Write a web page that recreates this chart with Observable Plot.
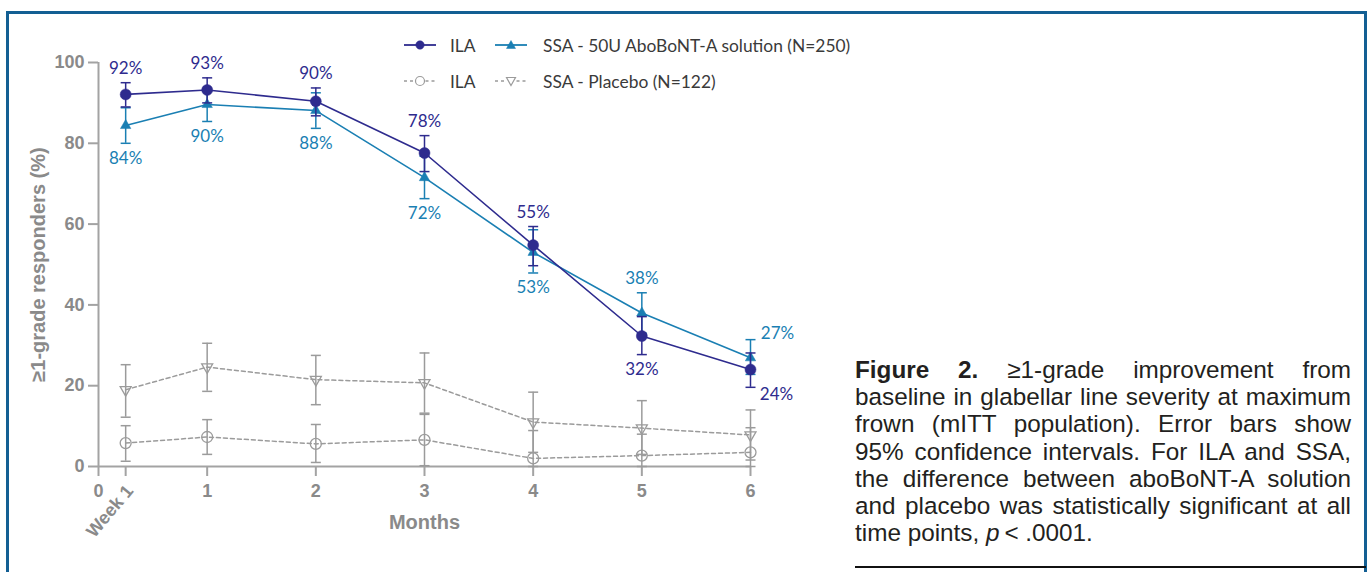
<!DOCTYPE html>
<html>
<head>
<meta charset="utf-8">
<script src="https://cdn.jsdelivr.net/npm/d3@7"></script>
<script src="https://cdn.jsdelivr.net/npm/@observablehq/plot@0.6"></script>
<style>
  html, body { margin: 0; padding: 0; background: #fff; }
  body { width: 1369px; height: 572px; overflow: hidden; position: relative; }
  #frame { position: absolute; left: 6px; top: 11px; width: 1361px; height: 620px; border: 3px solid #135f93; box-sizing: border-box; }
  #chart { position: absolute; left: 0; top: 0; }
  #legend { position: absolute; left: 403px; top: 33px; font-family: Lato, "Open Sans", sans-serif; font-size: 17.4px; color: #3a3a3a; }
  .lrow { display: grid; grid-template-columns: 34px 13px 44px 34px 15px auto; align-items: center; height: 24px; margin-bottom: 12px; white-space: nowrap; }
  .lrow svg { display: block; }
  #caption { position: absolute; left: 855px; top: 356px; width: 496px; font-family: "Liberation Sans", Arial, sans-serif; font-size: 24.3px; line-height: 27.2px; color: #231f20; }
  #caption div { text-align: justify; text-align-last: justify; white-space: nowrap; }
  #caption div.last { text-align: left; text-align-last: left; }
  #rule { position: absolute; left: 855px; top: 566px; width: 511px; height: 2px; background: #111; }
</style>
</head>
<body>
<div id="frame"></div>
<div id="chart"></div>
<div id="legend"></div>
<div id="caption"></div>
<div id="rule"></div>
<script>
// ---------- data ----------
const months = [0.25, 1, 2, 3, 4, 5, 6];
const xTicks = [0, 0.25, 1, 2, 3, 4, 5, 6];
const weekTick = [0.25];
const weekLabel = "Week 1";
const yTicks = [0, 20, 40, 60, 80, 100];

const ilaActive       = [92.1, 93.2, 90.4, 77.6, 54.8, 32.3, 24.0];
const ilaActiveLo     = [89.0, 90.0, 86.8, 73.0, 49.7, 27.7, 19.6];
const ilaActiveHi     = [95.0, 96.2, 93.7, 81.9, 59.4, 37.1, 28.1];
const ilaActiveLabels = ["92%", "93%", "90%", "78%", "55%", "32%", "24%"];

const ssaActive       = [84.4, 89.6, 88.1, 71.5, 53.0, 38.0, 26.9];
const ssaActiveLo     = [80.0, 85.4, 83.7, 66.3, 47.9, 33.0, 22.8];
const ssaActiveHi     = [88.8, 93.0, 92.5, 76.8, 58.6, 43.0, 31.4];
const ssaActiveLabels = ["84%", "90%", "88%", "72%", "53%", "38%", "27%"];

const ilaPlacebo      = [5.8, 7.3, 5.6, 6.6, 2.0, 2.7, 3.5];
const ilaPlaceboLo    = [1.3, 3.0, 1.0, 0.2, 0.0, 0.0, 0.0];
const ilaPlaceboHi    = [10.1, 11.6, 10.4, 12.9, 8.9, 8.0, 9.6];

const ssaPlacebo      = [19.0, 24.6, 21.5, 20.7, 11.0, 9.5, 7.8];
const ssaPlaceboLo    = [12.2, 18.6, 15.3, 13.2, 3.5, 3.0, 1.6];
const ssaPlaceboHi    = [25.2, 30.5, 27.5, 28.1, 18.4, 16.3, 14.0];

const legendLabels = ["ILA", "SSA - 50U AboBoNT-A solution (N=250)", "ILA", "SSA - Placebo (N=122)"];
const xLabel = "Months";
const yLabel = "≥1-grade responders (%)";

const captionLines = [
  "<b>Figure 2.</b> ≥1-grade improvement from",
  "baseline in glabellar line severity at maximum",
  "frown (mITT population). Error bars show",
  "95% confidence intervals. For ILA and SSA,",
  "the difference between aboBoNT-A solution",
  "and placebo was statistically significant at all",
  "time points, <i>p</i>&thinsp;&lt; .0001."
];

// ---------- styles ----------
const PURPLE = "#2e2b8e";
const TEAL = "#1a7fb3";
const GREY = "#9b9b9b";
const AXIS = "#a3a3a3";
const TICKTXT = "#8a8a8a";

const rows = (v, lo, hi, labels) => months.map((t, i) => ({t, v: v[i], lo: lo[i], hi: hi[i], label: labels ? labels[i] : ""}));
const ilaA = rows(ilaActive, ilaActiveLo, ilaActiveHi, ilaActiveLabels);
const ssaA = rows(ssaActive, ssaActiveLo, ssaActiveHi, ssaActiveLabels);
const ilaP = rows(ilaPlacebo, ilaPlaceboLo, ilaPlaceboHi);
const ssaP = rows(ssaPlacebo, ssaPlaceboLo, ssaPlaceboHi);

// custom symbols
const rad = size => Math.sqrt(size / Math.PI);
const capSym = {draw(ctx, size) { const r = rad(size); ctx.moveTo(-r, 0); ctx.lineTo(r, 0); }};
const triUp = {draw(ctx, size) { const r = rad(size), h = r * 1.75; ctx.moveTo(0, -h * 2 / 3); ctx.lineTo(r, h / 3); ctx.lineTo(-r, h / 3); ctx.closePath(); }};
const triDown = {draw(ctx, size) { const r = rad(size), h = r * 1.75; ctx.moveTo(0, h * 2 / 3); ctx.lineTo(r, -h / 3); ctx.lineTo(-r, -h / 3); ctx.closePath(); }};

function seriesMarks(data, color, opts) {
  return [
    Plot.line(data, {x: "t", y: "v", stroke: color, strokeWidth: opts.lw, strokeDasharray: opts.dash}),
    Plot.ruleX(data, {x: "t", y1: "lo", y2: "hi", stroke: color, strokeWidth: 1.5}),
    Plot.dot(data, {x: "t", y: "lo", symbol: capSym, r: 5, stroke: color, strokeWidth: 1.5, fill: "none"}),
    Plot.dot(data, {x: "t", y: "hi", symbol: capSym, r: 5, stroke: color, strokeWidth: 1.5, fill: "none"}),
    Plot.dot(data, {x: "t", y: "v", symbol: opts.symbol, r: opts.r, fill: opts.fill, stroke: color, strokeWidth: opts.sw})
  ];
}

function labelMarks(data, other, color) {
  const n = data.length;
  const above = (d, i) => d.v >= other[i].v;
  const font = {fontFamily: "Lato, 'Open Sans', sans-serif", fontSize: 17, fontWeight: "normal", fill: color, text: "label", x: "t"};
  return [
    Plot.text(data.filter((d, i) => i < n - 1 && above(d, i)), {...font, y: "hi", dy: -14}),
    Plot.text(data.filter((d, i) => i < n - 1 && !above(d, i)), {...font, y: "lo", dy: 15}),
    Plot.text(data.filter((d, i) => i === n - 1 && above(d, i)), {...font, y: "hi", dy: -6, dx: 27}),
    Plot.text(data.filter((d, i) => i === n - 1 && !above(d, i)), {...font, y: "lo", dy: 7, dx: 26})
  ];
}

const tickFont = {fontSize: 18, fontWeight: "bold", fontFamily: "'Liberation Sans', Arial, sans-serif"};

const chart = Plot.plot({
  width: 830,
  height: 560,
  marginLeft: 98,
  marginRight: 80,
  marginTop: 62,
  marginBottom: 94,
  style: {background: "transparent", fontFamily: "'Liberation Sans', Arial, sans-serif", overflow: "visible"},
  x: {domain: [0, 6], axis: null},
  y: {domain: [0, 100], axis: null},
  marks: [
    Plot.axisY({ticks: yTicks, tickSize: 10, tickPadding: 4, strokeWidth: 2, stroke: AXIS, fill: TICKTXT, label: null, tickFormat: d => String(d), ...tickFont}),
    Plot.axisX({ticks: xTicks, tickSize: 10, tickPadding: 8, strokeWidth: 2, stroke: AXIS, fill: TICKTXT, label: null, tickFormat: d => weekTick.includes(d) ? "" : String(d), ...tickFont}),
    Plot.axisX({ticks: weekTick, tickSize: 0, tickPadding: 21, fill: TICKTXT, label: null, tickFormat: () => weekLabel, tickRotate: -50, dx: 4, ...tickFont}),
    Plot.ruleX([0], {y1: 0, y2: 100, stroke: AXIS, strokeWidth: 2}),
    Plot.ruleY([0], {x1: 0, x2: 6, stroke: AXIS, strokeWidth: 2}),
    Plot.text([xLabel], {frameAnchor: "bottom", lineAnchor: "middle", text: d => d, dy: 56, fill: TICKTXT, fontSize: 20, fontWeight: "bold"}),
    Plot.text([yLabel], {frameAnchor: "left", textAnchor: "middle", lineAnchor: "middle", text: d => d, dx: -60, rotate: -90, fill: TICKTXT, fontSize: 20, fontWeight: "bold"}),
    ...seriesMarks(ilaP, GREY, {lw: 1.5, dash: "4,3", symbol: "circle", r: 5.5, fill: "none", sw: 1.3}),
    ...seriesMarks(ssaP, GREY, {lw: 1.5, dash: "4,3", symbol: triDown, r: 5.5, fill: "none", sw: 1.3}),
    ...seriesMarks(ssaA, TEAL, {lw: 1.6, dash: null, symbol: triUp, r: 5.2, fill: TEAL, sw: 0.5}),
    ...seriesMarks(ilaA, PURPLE, {lw: 1.6, dash: null, symbol: "circle", r: 5.5, fill: PURPLE, sw: 0.5}),
    ...labelMarks(ilaA, ssaA, PURPLE),
    ...labelMarks(ssaA, ilaA, TEAL)
  ]
});
document.getElementById("chart").appendChild(chart);

// ---------- legend ----------
function legendSymbol(color, dashed, kind, filled) {
  let m = "";
  const f = filled ? color : "#fff";
  if (kind === "circle") m = `<circle cx="17" cy="8" r="${filled ? 4.2 : 4.5}" fill="${f}" stroke="${color}" stroke-width="${filled ? 0.5 : 1.2}"/>`;
  if (kind === "triUp") m = `<path d="M17,3.5 L21.5,11.5 L12.5,11.5 Z" fill="${f}" stroke="${color}" stroke-width="0.5"/>`;
  if (kind === "triDown") m = `<path d="M17,12.5 L21.5,4.5 L12.5,4.5 Z" fill="${f}" stroke="${color}" stroke-width="1.2"/>`;
  const line = dashed
    ? `<line x1="1" y1="8" x2="11.5" y2="8" stroke="${color}" stroke-width="1.3" stroke-dasharray="3,3"/><line x1="22.5" y1="8" x2="33" y2="8" stroke="${color}" stroke-width="1.3" stroke-dasharray="3,3"/>`
    : `<line x1="1" y1="8" x2="33" y2="8" stroke="${color}" stroke-width="1.8"/>`;
  return `<svg width="34" height="16" viewBox="0 0 34 16">${line}${m}</svg>`;
}
document.getElementById("legend").innerHTML =
  `<div class="lrow">${legendSymbol(PURPLE, false, "circle", true)}<span></span><span>${legendLabels[0]}</span>${legendSymbol(TEAL, false, "triUp", true)}<span></span><span>${legendLabels[1]}</span></div>` +
  `<div class="lrow">${legendSymbol(GREY, true, "circle", false)}<span></span><span>${legendLabels[2]}</span>${legendSymbol(GREY, true, "triDown", false)}<span></span><span>${legendLabels[3]}</span></div>`;

// ---------- caption ----------
document.getElementById("caption").innerHTML = captionLines
  .map((l, i) => `<div class="${i === captionLines.length - 1 ? "last" : ""}">${l}</div>`).join("");
</script>
</body>
</html>
